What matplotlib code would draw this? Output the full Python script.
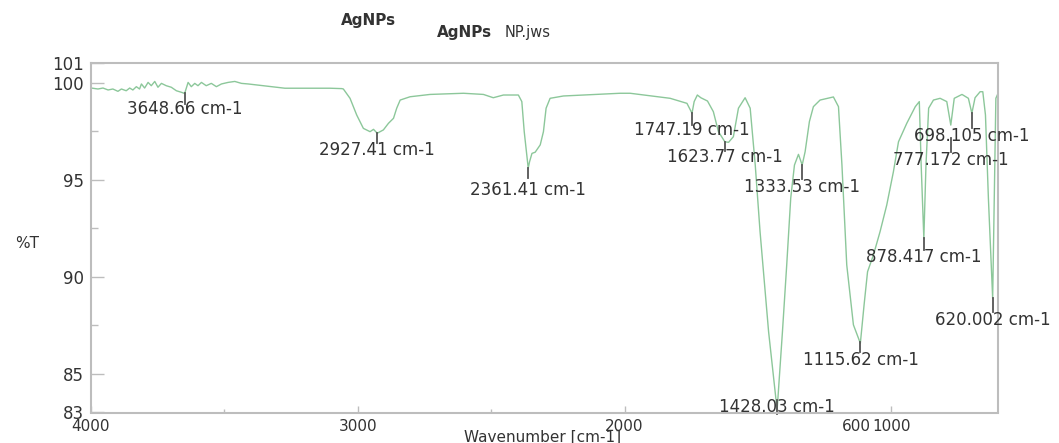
import matplotlib
matplotlib.use("Agg")
import matplotlib.pyplot as plt

# ---- data ----
wavenumber = [4000, 3999, 3974, 3955, 3936, 3918, 3899, 3886, 3868, 3855, 3843, 3830, 3818, 3811,
              3799, 3786, 3774, 3761, 3749, 3736, 3718, 3699, 3680, 3661, 3649, 3636, 3624, 3611,
              3599, 3586, 3568, 3549, 3530, 3511, 3486, 3461, 3436, 3411, 3335, 3273,
              3104, 3060, 3054, 3029, 3004, 2979, 2954, 2941, 2927, 2904, 2885, 2866, 2854, 2841,
              2804, 2729, 2604, 2529, 2492, 2454, 2398, 2385, 2376, 2361, 2356, 2347, 2335, 2316,
              2304, 2294, 2279, 2229, 2104, 2017, 1979, 1829, 1766, 1747, 1739, 1727, 1714, 1689,
              1667, 1648, 1624, 1610, 1592, 1573, 1548, 1529, 1510, 1492, 1460, 1428, 1408, 1392,
              1377, 1363, 1348, 1334, 1323, 1307, 1292, 1267, 1217, 1198, 1185, 1167, 1142, 1116,
              1102, 1089, 1067, 1042, 1017, 992, 973, 942, 910, 895, 888, 878, 870, 860, 842, 817,
              792, 777, 764, 735, 711, 698, 686, 667, 657, 647, 636, 620, 614, 608, 600]
transmittance = [99.72, 99.73, 99.68, 99.73, 99.63, 99.68, 99.56, 99.68, 99.59, 99.73, 99.63, 99.80,
                 99.68, 99.94, 99.73, 100.02, 99.85, 100.07, 99.77, 99.97, 99.85, 99.77, 99.59,
                 99.51, 99.45, 100.02, 99.80, 99.97, 99.85, 100.02, 99.85, 99.97, 99.80, 99.94,
                 100.02, 100.07, 99.97, 99.94, 99.82, 99.72,
                 99.72, 99.70, 99.68, 99.20, 98.34,
                 97.65, 97.48, 97.60, 97.40, 97.57, 97.91, 98.17, 98.69, 99.11, 99.28, 99.40, 99.46,
                 99.40, 99.23, 99.37, 99.37, 99.03, 97.48, 95.60, 95.93, 96.36, 96.42, 96.80, 97.48,
                 98.69, 99.20, 99.32, 99.40, 99.46, 99.46, 99.20, 98.94, 98.43, 99.03, 99.37, 99.23,
                 99.06, 98.51, 97.48, 96.96, 96.93, 97.22, 98.69, 99.23, 98.69, 95.76, 92.33, 87.17,
                 83.13, 87.17, 90.61, 94.05, 95.76, 96.31, 95.76, 96.45, 98.00, 98.77, 99.11, 99.27,
                 98.77, 95.76, 90.61, 87.52, 86.57, 88.55, 90.26, 91.12, 92.33, 93.70, 95.42, 96.96,
                 97.91, 98.77, 99.03, 95.76, 91.98, 95.76, 98.69, 99.11, 99.20, 99.03, 97.82, 99.20,
                 99.40, 99.20, 98.43, 99.23, 99.54, 99.54, 98.34, 94.05, 88.89, 94.05, 99.20, 99.45]

peak_wn = [3648.66, 2927.41, 2361.41, 1747.19, 1623.77, 1333.53, 1428.03, 1115.62,
           878.417, 777.172, 698.105, 620.002]
peak_T = [99.45, 97.40, 95.60, 98.43, 96.96, 95.76, 83.13, 86.57, 91.98, 97.82, 98.43, 88.89]
peak_labels = ["3648.66 cm-1", "2927.41 cm-1", "2361.41 cm-1", "1747.19 cm-1", "1623.77 cm-1",
               "1333.53 cm-1", "1428.03 cm-1", "1115.62 cm-1", "878.417 cm-1", "777.172 cm-1",
               "698.105 cm-1", "620.002 cm-1"]

x_major = [4000, 3000, 2000, 1000]
x_major_labels = ["4000", "3000", "2000", "1000"]
x_minor = [3500, 2500, 1500]
y_major = [83, 85, 90, 95, 100, 101]
y_major_labels = ["83", "85", "90", "95", "100", "101"]
y_minor = [87.5, 92.5, 97.5]

# ---- layout (pixel offsets below each peak: marker start, marker end, label centre) ----
label_offsets = [(0, 11, 16), (0, 10, 17), (0, 10, 22), (0, 12, 17), (0, 9, 15), (0, 14, 22),
                 (-10, 4, -3), (-1, 9, 17), (0, 12, 19), (13, 27, 35), (0, 15, 23), (0, 14, 22)]

W, H = 1059, 443
TXT = "#333333"
GRID = "#bdbdbd"
FS = 12

fig = plt.figure(figsize=(W / 100, H / 100), dpi=100)
left, right, top, bottom = 91, 998, 63.4, 412.5
ax = fig.add_axes([left / W, 1 - bottom / H, (right - left) / W, (bottom - top) / H])

ax.plot(wavenumber, transmittance, color="#8cc79a", lw=1.0)
ax.set_xlim(4000, 600)
ax.set_ylim(83, 101)

ax.set_xticks(x_major)
ax.set_xticklabels(x_major_labels)
ax.set_xticks(x_minor, minor=True)
ax.set_yticks(y_major)
ax.set_yticklabels(y_major_labels)
ax.set_yticks(y_minor, minor=True)

ax.tick_params(axis="x", which="major", direction="in", length=5, width=1, color=GRID,
               labelcolor=TXT, labelsize=11, pad=4.5)
ax.tick_params(axis="x", which="minor", direction="in", length=3, width=1, color=GRID)
ax.tick_params(axis="y", which="major", direction="in", length=9.5, width=1, color=GRID,
               labelcolor=TXT, labelsize=FS, pad=5)
ax.tick_params(axis="y", which="minor", direction="in", length=5, width=1, color=GRID)
for s in ax.spines.values():
    s.set_color(GRID)
    s.set_linewidth(1.5)

# stray "600" label drawn next to the 1000 label, as in the reference
ax.annotate("600", xy=(1000, 0), xycoords=ax.get_xaxis_transform(), xytext=(-20, -6.2),
            textcoords="offset pixels", ha="right", va="top", fontsize=11, color=TXT,
            annotation_clip=False)

# peak markers and labels
inv = ax.transData.inverted()
for w, t, lab, (s0, s1, tc) in zip(peak_wn, peak_T, peak_labels, label_offsets):
    px, py = ax.transData.transform((w, t))
    a = inv.transform((px, py - s0))
    b = inv.transform((px, py - s1))
    ax.plot([a[0], b[0]], [a[1], b[1]], color="#555555", lw=1.3, clip_on=False)
    c = inv.transform((px, py - tc))
    ax.text(c[0], c[1], lab, ha="center", va="center", fontsize=FS, color=TXT, clip_on=False)

# titles and axis labels
fig.text(368 / W, 1 - 20 / H, "AgNPs", ha="center", va="center", fontsize=11,
         fontweight="bold", color=TXT)
fig.text(437 / W, 1 - 32 / H, "AgNPs", ha="left", va="center", fontsize=11,
         fontweight="bold", color=TXT)
fig.text(505 / W, 1 - 32 / H, "NP.jws", ha="left", va="center", fontsize=10.5, color=TXT)
fig.text(27 / W, 1 - 243 / H, "%T", ha="center", va="center", fontsize=11, color=TXT)
fig.text(543 / W, 1.5 / H, "Wavenumber [cm-1]", ha="center", va="baseline", fontsize=11,
         color=TXT)

fig.savefig("out.png", dpi=100, facecolor="white")
